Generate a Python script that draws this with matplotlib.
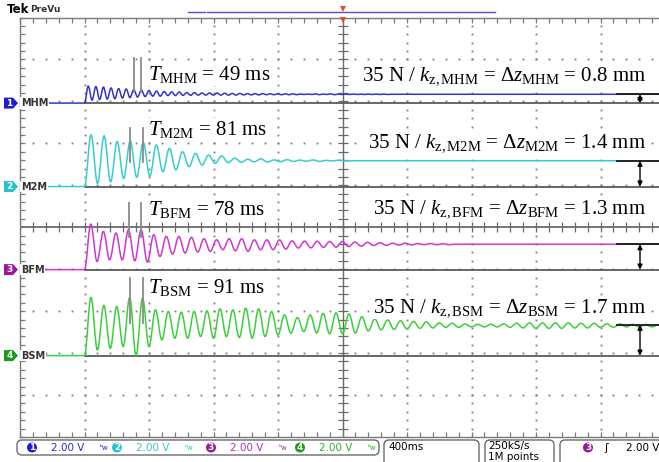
import numpy as np
import matplotlib
matplotlib.use("Agg")
import matplotlib.pyplot as plt
from matplotlib.patches import FancyBboxPatch, Polygon, Circle, PathPatch
from matplotlib.path import Path
from matplotlib.ticker import MultipleLocator

plt.rcParams['mathtext.fontset'] = 'custom'
plt.rcParams['mathtext.rm'] = 'Liberation Serif'
plt.rcParams['mathtext.it'] = 'Liberation Serif:italic'
plt.rcParams['mathtext.bf'] = 'Liberation Serif:bold'

# ------------------------------------------------------------------ data
channels = ["MHM", "M2M", "BFM", "BSM"]
channel_numbers = ["1", "2", "3", "4"]
volts_per_div = 2.00
sec_per_div = 0.400
step_time_s = -1.6
osc_period_ms = [47, 81, 78, 80]          # period of the drawn oscillation
label_period_ms = [49, 81, 78, 91]        # values written in the labels
delta_z_mm = [0.8, 1.4, 1.3, 1.7]
offset_div = [2.96, 0.97, -1.01, -3.06]   # channel ground levels
final_v = [0.42, 1.23, 1.21, 1.47]

mhm_peaks_v = [0.81, 0.79, 0.76, 0.72, 0.69, 0.67, 0.64, 0.62, 0.60, 0.57,
               0.55, 0.53, 0.53, 0.50, 0.50, 0.48, 0.48, 0.48, 0.47, 0.46,
               0.46, 0.45, 0.45, 0.45, 0.44, 0.44, 0.44, 0.44, 0.43, 0.43,
               0.44, 0.43, 0.44, 0.43, 0.43, 0.43, 0.43, 0.43, 0.43, 0.43]
mhm_troughs_v = [0.14, 0.17, 0.19, 0.21, 0.24, 0.26, 0.29, 0.31, 0.33, 0.33,
                 0.36, 0.36, 0.37, 0.37, 0.38, 0.38, 0.38, 0.38, 0.38, 0.38,
                 0.39, 0.39, 0.39, 0.40, 0.40, 0.40, 0.40, 0.40, 0.41, 0.41,
                 0.40, 0.41, 0.40, 0.41, 0.41, 0.41, 0.41, 0.41, 0.41, 0.41]

m2m_peaks_v = [2.46, 2.42, 2.14, 2.17, 2.11, 1.98, 1.82, 1.66, 1.58, 1.50,
               1.46, 1.35, 1.30, 1.32, 1.27, 1.28, 1.26, 1.27, 1.25, 1.26]
m2m_troughs_v = [0.15, 0.23, 0.39, 0.44, 0.50, 0.71, 0.79, 0.95, 1.03, 1.11,
                 1.14, 1.16, 1.18, 1.17, 1.19, 1.20, 1.21, 1.20, 1.22, 1.22]

bfm_peaks_v = [2.17, 1.82, 1.74, 1.90, 1.90, 1.66, 1.58, 1.58, 1.54, 1.47,
               1.42, 1.47, 1.47, 1.42, 1.42, 1.42, 1.37, 1.36, 1.35, 1.34,
               1.34, 1.31, 1.30, 1.28, 1.26, 1.26, 1.24, 1.24, 1.23]
bfm_troughs_v = [0.39, 0.47, 0.47, 0.42, 0.36, 0.63, 0.74, 0.79, 0.84, 0.87,
                 0.95, 0.90, 0.87, 0.95, 0.95, 0.98, 1.03, 1.04, 1.06, 1.07,
                 1.10, 1.12, 1.15, 1.16, 1.17, 1.18, 1.19, 1.19, 1.19]

bsm_peaks_v = [2.77, 2.39, 2.34, 2.77, 2.74, 2.18, 2.10, 2.07, 2.10, 2.13,
               2.23, 2.18, 2.26, 2.23, 2.10, 1.94, 1.81, 1.94, 2.01, 2.04,
               1.99, 1.85, 1.75, 1.70, 1.66, 1.63, 1.61, 1.56, 1.54, 1.51,
               1.49, 1.49, 1.51, 1.54, 1.56, 1.56, 1.56, 1.56, 1.54, 1.54,
               1.51, 1.51, 1.49, 1.49]
bsm_troughs_v = [0.27, 0.35, 0.43, 0.00, 0.43, 0.75, 0.83, 0.83, 0.91, 0.83,
                 0.91, 0.86, 0.83, 0.91, 0.99, 1.07, 1.15, 1.08, 1.04, 1.04,
                 1.08, 1.18, 1.23, 1.25, 1.27, 1.30, 1.32, 1.35, 1.35, 1.37,
                 1.37, 1.37, 1.35, 1.32, 1.30, 1.30, 1.30, 1.32, 1.32, 1.35,
                 1.35, 1.37, 1.37, 1.37]

peaks_v = [mhm_peaks_v, m2m_peaks_v, bfm_peaks_v, bsm_peaks_v]
troughs_v = [mhm_troughs_v, m2m_troughs_v, bfm_troughs_v, bsm_troughs_v]
marked_peak = [7, 4, 4, 4]                 # peaks marked by the two bars
bar_span_v = [(0.53, 2.15), (1.17, 2.79), (1.55, 3.17), (1.56, 3.71)]

# ------------------------------------------------------------------ style
trace_colors = ['#3434c6', '#36cdd0', '#d036d0', '#3ccf3c']
marker_colors = ['#1c1cd8', '#22c4c8', '#9a1a9a', '#1a9a1a']
text_colors = ['#2a2ad0', '#38c6ca', '#b030b0', '#30b030']
grid_col = '#7a7a7a'

W, H = 659, 462
fig = plt.figure(figsize=(W / 100, H / 100), dpi=100)
fig.patch.set_facecolor('white')

AX_L, AX_T, AX_W, AX_H = 20, 17.5, 645, 419.5
ax = fig.add_axes([AX_L / W, 1 - (AX_T + AX_H) / H, AX_W / W, AX_H / H])
ax.set_xlim(-5 * sec_per_div, 5 * sec_per_div)
ax.set_ylim(-5, 5)
for s in ax.spines.values():
    s.set_color(grid_col)
    s.set_linewidth(1.0)
ax.xaxis.set_major_locator(MultipleLocator(sec_per_div))
ax.xaxis.set_minor_locator(MultipleLocator(sec_per_div / 5))
ax.yaxis.set_major_locator(MultipleLocator(1))
ax.yaxis.set_minor_locator(MultipleLocator(0.2))
ax.tick_params(which='both', direction='in', length=3.5, width=0.9, color=grid_col,
               top=True, right=True, labelbottom=False, labelleft=False)


def px_x(t):
    return AX_L + (t + 5 * sec_per_div) / (10 * sec_per_div) * AX_W


def px_y(d):
    return AX_T + (5 - d) / 10 * AX_H


# dotted graticule
xs_major = np.arange(-4, 5) * sec_per_div
ys_major = np.arange(-4, 5)
xs_minor = np.arange(-25, 26) * sec_per_div / 5
ys_minor = np.arange(-25, 26) * 0.2
for xm in xs_major:
    if abs(xm) < 1e-9:
        continue
    ax.plot(np.full_like(ys_minor, xm), ys_minor, ls='none', marker='s', ms=1.3,
            mew=0, color=grid_col, zorder=1)
for ym in ys_major:
    if ym == 0:
        continue
    ax.plot(xs_minor, np.full_like(xs_minor, ym, dtype=float), ls='none', marker='s',
            ms=1.3, mew=0, color=grid_col, zorder=1)
# center cross with ticks
ax.axhline(0, color='#6a6a6a', lw=1.3, zorder=1.5)
ax.axvline(0, color='#6a6a6a', lw=1.0, zorder=1.5)
ax.plot(xs_minor, np.zeros_like(xs_minor), ls='none', marker='|', ms=7, mew=0.9,
        color='#6a6a6a', zorder=1.5)
ax.plot(np.zeros_like(ys_minor), ys_minor, ls='none', marker='_', ms=7, mew=0.9,
        color='#6a6a6a', zorder=1.5)


def build_trace(peaks, troughs, period_ms, final):
    """Extrema of the ringing, one every half period after the step."""
    half = period_ms / 1000.0 / 2
    t = [-5 * sec_per_div, step_time_s]
    v = [0.0, 0.0]
    k = 1
    for p, tr in zip(peaks, troughs):
        t += [step_time_s + k * half, step_time_s + (k + 1) * half]
        v += [p, tr]
        k += 2
    t += [step_time_s + k * half, 5 * sec_per_div]
    v += [final, final]
    return np.array(t), np.array(v)


def ringing_path(t, y):
    """Join successive extrema with smooth (horizontal-tangent) Bezier arcs."""
    verts = [(t[0], y[0])]
    codes = [Path.MOVETO]
    n = len(t)
    for j in range(1, n):
        if j == 1 or j == n - 1:
            verts.append((t[j], y[j]))
            codes.append(Path.LINETO)
            continue
        h = t[j] - t[j - 1]
        verts += [(t[j - 1] + 0.3642 * h, y[j - 1]), (t[j] - 0.3642 * h, y[j]), (t[j], y[j])]
        codes += [Path.CURVE4] * 3
    return Path(verts, codes)


arrow_t = 1.845
for i, name in enumerate(channels):
    off = offset_div[i]
    # ground reference line from the step on
    ax.plot([step_time_s, 5 * sec_per_div], [off, off], color='#5a5a5a', lw=1.3, zorder=2)
    t, v = build_trace(peaks_v[i], troughs_v[i], osc_period_ms[i], final_v[i])
    ax.add_patch(PathPatch(ringing_path(t, off + v / volts_per_div), fill=False,
                           edgecolor=trace_colors[i], lw=1.1, zorder=4))
    # marker bars on two successive peaks
    half = osc_period_ms[i] / 1000.0 / 2
    n = marked_peak[i]
    for m in (n, n + 1):
        tb = step_time_s + (2 * m - 1) * half
        ax.plot([tb, tb], [off + bar_span_v[i][0] / volts_per_div,
                           off + bar_span_v[i][1] / volts_per_div],
                color='#8a8a8a', lw=1.3, zorder=5)
    # final level marker and double arrow
    fy = off + final_v[i] / volts_per_div
    ax.plot([1.70, 2.0], [fy, fy], color='#1a1a1a', lw=1.3, zorder=5)
    ax.annotate('', xy=(arrow_t, off), xytext=(arrow_t, fy),
                arrowprops=dict(arrowstyle='<|-|>', color='black', lw=1.0,
                                mutation_scale=7, shrinkA=0, shrinkB=0), zorder=6)

# ------------------------------------------------------------------ overlay (pixel coords)
ov = fig.add_axes([0, 0, 1, 1])
ov.set_xlim(0, W)
ov.set_ylim(H, 0)
ov.axis('off')

serif = 'Liberation Serif'
t_baselines = [80, 135, 215, 293]
r_baselines = [80, 147, 213, 312]
for i, name in enumerate(channels):
    ov.text(148, t_baselines[i], r'$T_{\mathrm{%s}}$ = %d ms' % (name, label_period_ms[i]),
            fontsize=15, family=serif, ha='left', va='baseline', zorder=3,
            bbox=dict(facecolor='white', edgecolor='none', pad=0.5))
    ov.text(646, r_baselines[i],
            r'35 N / $k_{\mathrm{z,%s}}$ = Δ$z_{\mathrm{%s}}$ = %.1f mm' % (name, name, delta_z_mm[i]),
            fontsize=15, family=serif, ha='right', va='baseline', zorder=3,
            bbox=dict(facecolor='white', edgecolor='none', pad=0.5))
    # channel ground marker
    yb = px_y(offset_div[i])
    ov.add_patch(Polygon([(4, yb - 5.5), (13, yb - 5.5), (18, yb), (13, yb + 5.5), (4, yb + 5.5)],
                         closed=True, facecolor=marker_colors[i], edgecolor='none'))
    ov.text(9.5, yb + 0.3, channel_numbers[i], color='white', fontsize=6.5, fontweight='bold',
            ha='center', va='center', family='DejaVu Sans')
    ov.text(21, yb, name, color='#333333', fontsize=7, fontweight='bold', ha='left', va='center',
            family='DejaVu Sans', bbox=dict(facecolor='white', edgecolor='none', pad=0.4))

# header
ov.text(7, 9.5, 'Tek', fontsize=8.5, fontweight='bold', ha='left', va='center', family='DejaVu Sans')
ov.text(30, 9.5, 'PreVu', fontsize=6.5, fontweight='bold', color='#333333', ha='left', va='center',
        family='DejaVu Sans')
ov.plot([188, 205], [12, 12], color='#5050d8', lw=1.0)
ov.plot([207, 495], [12, 12], color='#5050d8', lw=1.0)
ov.plot([px_x(0)], [8.5], marker='v', ms=4.5, color='#e05020', mew=0)
ov.plot([px_x(0)], [19.5], marker='v', ms=4, color='#e05020', mew=0)

# bottom status bar
def rbox(x, y, w, h):
    ov.add_patch(FancyBboxPatch((x, y), w, h, boxstyle='round,pad=0,rounding_size=5',
                                facecolor='white', edgecolor='#6a6a6a', lw=1.0, clip_on=False))

rbox(17, 440, 362, 15)
circle_x = [32, 117, 211, 300]
for i in range(4):
    cx = circle_x[i]
    ov.add_patch(Circle((cx, 447.5), 5.0, facecolor=marker_colors[i], edgecolor='none'))
    ov.text(cx, 447.8, channel_numbers[i], color='white', fontsize=6.5, fontweight='bold',
            ha='center', va='center', family='DejaVu Sans')
    ov.text(cx + 19, 447.8, '%.2f V' % volts_per_div, color=text_colors[i], fontsize=7.5,
            ha='left', va='center', family='DejaVu Sans')
    ov.text(cx + 68, 447.8, 'ᵇw', color=text_colors[i], fontsize=5, ha='left', va='center',
            family='DejaVu Sans')

rbox(384, 440, 95, 26)
ov.text(388, 446.5, '%dms' % int(sec_per_div * 1000), fontsize=7.5, ha='left', va='center',
        family='DejaVu Sans')
rbox(485, 440, 69, 26)
ov.text(488, 446.5, '250kS/s', fontsize=7.5, ha='left', va='center', family='DejaVu Sans')
ov.text(488, 457.5, '1M points', fontsize=7.5, ha='left', va='center', family='DejaVu Sans')
rbox(560, 440, 115, 26)
ov.add_patch(Circle((588, 447.5), 5.0, facecolor=marker_colors[2], edgecolor='none'))
ov.text(588, 447.8, channel_numbers[2], color='white', fontsize=6.5, fontweight='bold',
        ha='center', va='center', family='DejaVu Sans')
ov.text(604, 447.8, 'ʃ', fontsize=8, ha='left', va='center', family='DejaVu Sans')
ov.text(626, 447.8, '%.2f V' % volts_per_div, fontsize=7.5, ha='left', va='center',
        family='DejaVu Sans')

fig.savefig('out.png', dpi=100)
